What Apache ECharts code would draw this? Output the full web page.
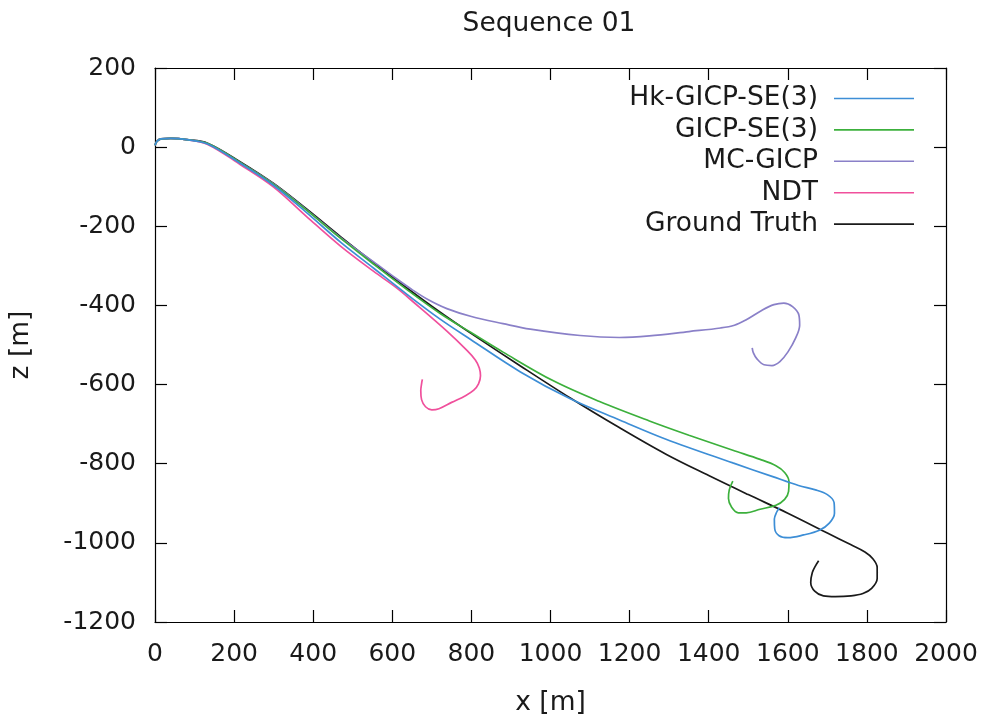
<!DOCTYPE html>
<html>
<head>
<meta charset="utf-8">
<script src="https://cdn.jsdelivr.net/npm/echarts@6/dist/echarts.min.js"></script>
<style>
html,body{margin:0;padding:0;background:#fff;}
#chart{width:989px;height:722px;}
</style>
</head>
<body>
<div id="chart"></div>
<script>
// Data (x [m], z [m])
var seriesNames = ['Hk-GICP-SE(3)', 'GICP-SE(3)', 'MC-GICP', 'NDT', 'Ground Truth'];
var xTicks = [0, 200, 400, 600, 800, 1000, 1200, 1400, 1600, 1800, 2000];
var zTicks = [-1200, -1000, -800, -600, -400, -200, 0, 200];

var hkGicp = [[0,5],[5,15],[15,21],[40,22],[80,19],[133,8],[217,-42],[300,-97],[384,-166],[469,-240],[553,-306],[637,-372],[720,-434],[798,-486],[924,-568],[1050,-636],[1176,-690],[1292,-738],[1461,-798],[1560,-832],[1627,-855],[1670,-866],[1700,-878],[1717,-898],[1718,-925],[1705,-950],[1680,-968],[1640,-980],[1600,-987],[1578,-982],[1567,-965],[1566,-940],[1572,-922],[1579,-911]];
var gicp = [[0,5],[5,15],[15,21],[40,22],[80,19],[133,9],[217,-40],[300,-94],[384,-160],[469,-230],[553,-296],[637,-360],[722,-421],[798,-468],[880,-518],[1006,-590],[1124,-643],[1250,-692],[1350,-728],[1461,-766],[1530,-789],[1570,-805],[1592,-822],[1603,-845],[1602,-870],[1592,-890],[1570,-905],[1530,-915],[1495,-924],[1475,-924],[1458,-910],[1450,-888],[1452,-866],[1461,-844]];
var mcGicp = [[0,5],[5,15],[15,21],[40,22],[80,19],[133,9],[217,-40],[300,-93],[384,-159],[469,-229],[553,-290],[610,-332],[650,-360],[690,-385],[738,-408],[800,-428],[880,-446],[949,-460],[1075,-476],[1174,-481],[1250,-477],[1350,-466],[1430,-457],[1465,-450],[1495,-436],[1535,-412],[1565,-398],[1590,-394],[1612,-403],[1628,-424],[1630,-450],[1620,-482],[1600,-518],[1580,-542],[1560,-552],[1540,-550],[1522,-535],[1513,-520],[1510,-507]];
var ndt = [[0,5],[5,15],[15,21],[40,22],[80,19],[133,7],[217,-45],[300,-101],[384,-176],[469,-250],[553,-314],[610,-355],[654,-392],[738,-465],[790,-515],[810,-538],[820,-558],[823,-578],[818,-598],[806,-614],[785,-628],[750,-645],[718,-661],[700,-664],[684,-656],[674,-638],[672,-615],[674,-598],[676,-587]];
var groundTruth = [[0,5],[5,15],[15,21],[40,22],[80,19],[133,10],[217,-38],[300,-92],[384,-157],[469,-226],[553,-292],[637,-356],[722,-418],[798,-470],[924,-553],[1050,-634],[1176,-710],[1292,-776],[1400,-830],[1500,-878],[1600,-925],[1700,-975],[1760,-1005],[1795,-1023],[1815,-1040],[1826,-1062],[1826,-1090],[1812,-1115],[1790,-1128],[1760,-1134],[1720,-1136],[1690,-1134],[1668,-1122],[1658,-1100],[1662,-1075],[1670,-1058],[1678,-1045]];

var seriesData = [hkGicp, gicp, mcGicp, ndt, groundTruth];
var colors = ['#3d8ed6', '#3cb03c', '#8a80c8', '#f0509c', '#1a1a1a'];

var FONT = 'DejaVu Sans';
var FS_TICK = 25;
var FS_TEXT = 26.5;

var chart = echarts.init(document.getElementById('chart'), null, {renderer: 'canvas'});

function axisCommon() {
  return {
    axisLine: {show: true, onZero: false, lineStyle: {color: '#000', width: 1.2}},
    axisTick: {show: true, inside: true, length: 12, lineStyle: {color: '#000', width: 1.2}},
    splitLine: {show: false}
  };
}

var option = {
  animation: false,
  backgroundColor: '#fff',
  color: colors,
  title: {
    text: 'Sequence 01',
    left: 544,
    textAlign: 'center',
    top: 6,
    textStyle: {fontFamily: FONT, fontSize: FS_TEXT, fontWeight: 'normal', color: '#1a1a1a'}
  },
  legend: {
    orient: 'vertical',
    right: 70,
    top: 80,
    align: 'right',
    itemWidth: 80,
    itemHeight: 1.6,
    itemGap: 4.4,
    icon: 'rect',
    data: seriesNames,
    textStyle: {fontFamily: FONT, fontSize: FS_TEXT, color: '#1a1a1a', lineHeight: 26, padding: [0, 11, 0, 0]}
  },
  grid: {left: 154, right: 43, top: 68, bottom: 99, containLabel: false},
  xAxis: [
    Object.assign({
      type: 'value', position: 'bottom', min: 0, max: 2000, interval: 200,
      name: 'x [m]', nameLocation: 'middle', nameGap: 68,
      nameTextStyle: {fontFamily: FONT, fontSize: FS_TEXT, color: '#1a1a1a'},
      axisLabel: {fontFamily: FONT, fontSize: FS_TICK, color: '#1a1a1a', margin: 20,
        formatter: function (v) { return xTicks.indexOf(v) >= 0 ? String(v) : ''; }}
    }, axisCommon()),
    Object.assign({
      type: 'value', position: 'top', min: 0, max: 2000, interval: 200,
      axisLabel: {show: false}
    }, axisCommon())
  ],
  yAxis: [
    Object.assign({
      type: 'value', position: 'left', min: -1200, max: 200, interval: 200,
      name: 'z [m]', nameLocation: 'middle', nameGap: 120, nameRotate: 90,
      nameTextStyle: {fontFamily: FONT, fontSize: FS_TEXT, color: '#1a1a1a'},
      axisLabel: {fontFamily: FONT, fontSize: FS_TICK, color: '#1a1a1a', margin: 19,
        formatter: function (v) { return zTicks.indexOf(v) >= 0 ? String(v) : ''; }}
    }, axisCommon()),
    Object.assign({
      type: 'value', position: 'right', min: -1200, max: 200, interval: 200,
      axisLabel: {show: false}
    }, axisCommon())
  ],
  series: seriesNames.map(function (name, i) {
    return {
      name: name,
      type: 'line',
      xAxisIndex: 0,
      yAxisIndex: 0,
      data: seriesData[i],
      smooth: 0.35,
      symbol: 'none',
      showSymbol: false,
      lineStyle: {color: colors[i], width: 1.7},
      itemStyle: {color: colors[i]},
      z: 10 - i
    };
  })
};

chart.setOption(option);
</script>
</body>
</html>
